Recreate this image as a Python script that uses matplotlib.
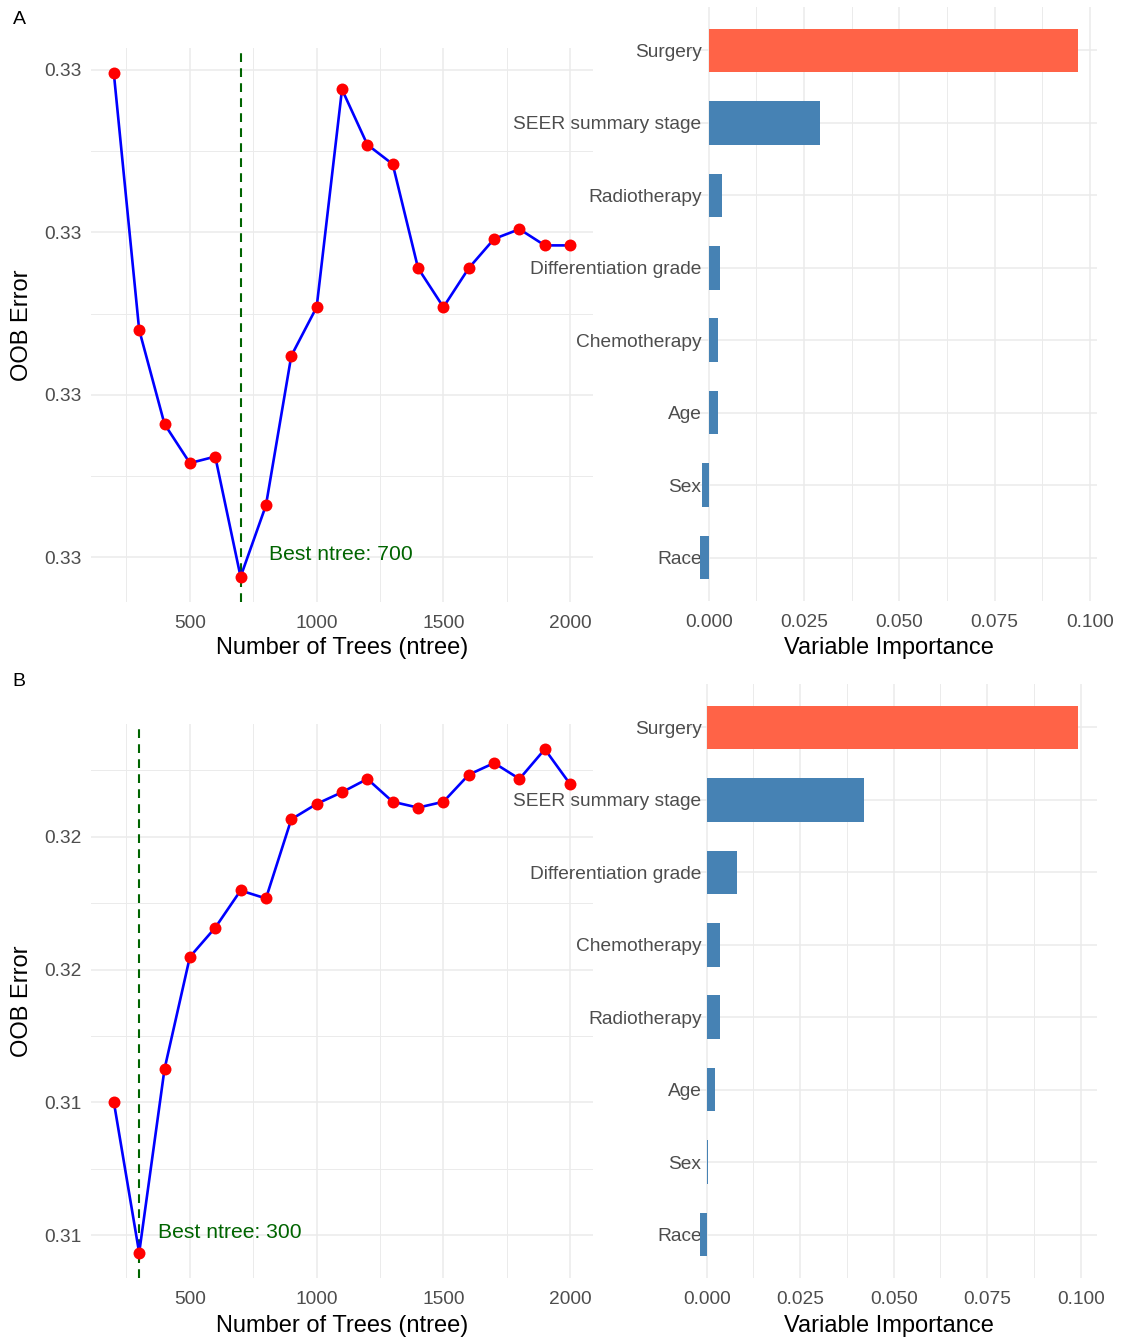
import numpy as np
import matplotlib
matplotlib.use("Agg")
import matplotlib.pyplot as plt
from matplotlib.ticker import FixedLocator, NullLocator

plt.rcParams['font.family'] = ['Liberation Sans', 'DejaVu Sans']

# ---------------- data ----------------
ntree = [200, 300, 400, 500, 600, 700, 800, 900, 1000, 1100,
         1200, 1300, 1400, 1500, 1600, 1700, 1800, 1900, 2000]

oob_a = [0.32849, 0.32770, 0.32741, 0.32729, 0.32731, 0.32694, 0.32716,
         0.32762, 0.32777, 0.32844, 0.32827, 0.32821, 0.32789, 0.32777,
         0.32789, 0.32798, 0.32801, 0.32796, 0.32796]
best_a = 700

oob_b = [0.31251, 0.30967, 0.31313, 0.31524, 0.31579, 0.31649, 0.31634,
         0.31783, 0.31812, 0.31834, 0.31859, 0.31816, 0.31805, 0.31816,
         0.31867, 0.31889, 0.31859, 0.31915, 0.31849]
best_b = 300

x_ticks = [500, 1000, 1500, 2000]
x_tick_labels = ["500", "1000", "1500", "2000"]
x_minor = [250, 750, 1250, 1750]

y_ticks_a = [0.3270, 0.3275, 0.3280, 0.3285]
y_tick_labels_a = ["0.33", "0.33", "0.33", "0.33"]
y_ticks_b = [0.3100, 0.3125, 0.3150, 0.3175]
y_tick_labels_b = ["0.31", "0.31", "0.32", "0.32"]

vars_a = ["Surgery", "SEER summary stage", "Radiotherapy", "Differentiation grade",
          "Chemotherapy", "Age", "Sex", "Race"]
imp_a = [0.0969, 0.0291, 0.0035, 0.0029, 0.0025, 0.0024, -0.0018, -0.0023]

vars_b = ["Surgery", "SEER summary stage", "Differentiation grade", "Chemotherapy",
          "Radiotherapy", "Age", "Sex", "Race"]
imp_b = [0.0993, 0.0422, 0.0081, 0.0036, 0.0036, 0.0022, 0.0003, -0.0018]

imp_ticks = [0.000, 0.025, 0.050, 0.075, 0.100]
imp_tick_labels = ["0.000", "0.025", "0.050", "0.075", "0.100"]
imp_minor = [0.0125, 0.0375, 0.0625, 0.0875]

# ---------------- style ----------------
W, H = 1125, 1338
GRID = '#EBEBEB'
TICKC = '#4D4D4D'
TICK_FS = 13.8
TITLE_FS = 17

fig = plt.figure(figsize=(W / 100, H / 100), dpi=100)
fig.patch.set_facecolor('white')


def px_axes(x0, y0, x1, y1):
    return fig.add_axes([x0 / W, 1 - y1 / H, (x1 - x0) / W, (y1 - y0) / H])


def clean(ax):
    for s in ax.spines.values():
        s.set_visible(False)
    ax.set_facecolor('none')
    ax.tick_params(which='both', length=0, colors=TICKC, labelsize=TICK_FS)
    ax.set_axisbelow(True)


def line_panel(ax, x, y, best, yt, ytl, label_pos, title_y_px, panel_bottom_px, panel_h_px):
    clean(ax)
    ax.plot(x, y, color='#0000FF', lw=1.9, zorder=3)
    ax.plot(x, y, 'o', color='#FF0000', ms=8.6, mec='none', zorder=4)
    ax.axvline(best, color='#006400', lw=1.5, ls=(0, (4.2, 3.0)), zorder=2)
    ax.text(label_pos[0], label_pos[1], f"Best ntree: {best}", color='#006400',
            fontsize=15.2, ha='left', va='center', zorder=5)
    xr = max(x) - min(x)
    ax.set_xlim(min(x) - 0.05 * xr, max(x) + 0.05 * xr)
    yr = max(y) - min(y)
    ax.set_ylim(min(y) - 0.05 * yr, max(y) + 0.05 * yr)
    ax.xaxis.set_major_locator(FixedLocator(x_ticks))
    ax.set_xticklabels(x_tick_labels)
    ax.xaxis.set_minor_locator(FixedLocator(x_minor))
    ax.yaxis.set_major_locator(FixedLocator(yt))
    ax.set_yticklabels(ytl)
    step = yt[1] - yt[0]
    ax.yaxis.set_minor_locator(FixedLocator([yt[0] - step / 2] + [t + step / 2 for t in yt]))
    ax.grid(which='major', color=GRID, lw=1.1)
    ax.grid(which='minor', color=GRID, lw=0.7)
    ax.tick_params(axis='x', pad=9.5)
    ax.tick_params(axis='y', pad=6.5)
    ax.set_xlabel("Number of Trees (ntree)", fontsize=TITLE_FS, color='black')
    ax.xaxis.set_label_coords(0.5, -(title_y_px - panel_bottom_px) / panel_h_px)
    ax.xaxis.label.set_va('center')
    ax.set_ylabel("OOB Error", fontsize=TITLE_FS, color='black')
    ax.yaxis.set_label_coords(-(91 - 22) / 502, 0.5)
    ax.yaxis.label.set_va('center')


def bar_panel(ax, names, vals, title_y_px, panel_bottom_px, panel_h_px):
    clean(ax)
    n = len(names)
    pos = np.arange(n)[::-1]
    vmax = max(vals)
    colors = ['#FF6347' if v == vmax else '#4682B4' for v in vals]
    ax.barh(pos, vals, height=0.6, color=colors, zorder=3)
    lo = min(min(vals), 0)
    hi = max(max(vals), 0)
    r = hi - lo
    ax.set_xlim(lo - 0.05 * r, hi + 0.05 * r)
    ax.set_ylim(-0.6, n - 1 + 0.6)
    ax.set_yticks(pos)
    ax.set_yticklabels(names)
    ax.yaxis.set_minor_locator(NullLocator())
    ax.xaxis.set_major_locator(FixedLocator(imp_ticks))
    ax.set_xticklabels(imp_tick_labels)
    ax.xaxis.set_minor_locator(FixedLocator(imp_minor))
    ax.grid(which='major', color=GRID, lw=1.1)
    ax.grid(which='minor', axis='x', color=GRID, lw=0.7)
    # labels sit just left of the zero line, overlapping the panel
    ax.tick_params(axis='y', pad=-14.8)
    ax.tick_params(axis='x', pad=9.5)
    for t in ax.get_yticklabels():
        t.set_zorder(5)
        t.set_va('center_baseline')
    ax.set_xlabel("Variable Importance", fontsize=TITLE_FS, color='black')
    ax.xaxis.set_label_coords(0.5, -(title_y_px - panel_bottom_px) / panel_h_px)
    ax.xaxis.label.set_va('center')


# ---------- Row A ----------
axA1 = px_axes(91, 48, 593, 602)
line_panel(axA1, ntree, oob_a, best_a, y_ticks_a, y_tick_labels_a,
           (814, 0.32701), 648, 602, 554)
axA2 = px_axes(681, 7, 1097, 601)
bar_panel(axA2, vars_a, imp_a, 648, 601, 594)

# ---------- Row B ----------
axB1 = px_axes(91, 724, 593, 1278)
line_panel(axB1, ntree, oob_b, best_b, y_ticks_b, y_tick_labels_b,
           (373, 0.31006), 1326, 1278, 554)
axB2 = px_axes(681, 684, 1097, 1278)
bar_panel(axB2, vars_b, imp_b, 1326, 1278, 594)

fig.text(19 / W, 1 - 20 / H, "A", fontsize=14, ha='center', va='center', color='black')
fig.text(19 / W, 1 - 681 / H, "B", fontsize=14, ha='center', va='center', color='black')

fig.savefig("out.png", dpi=100, facecolor='white')
